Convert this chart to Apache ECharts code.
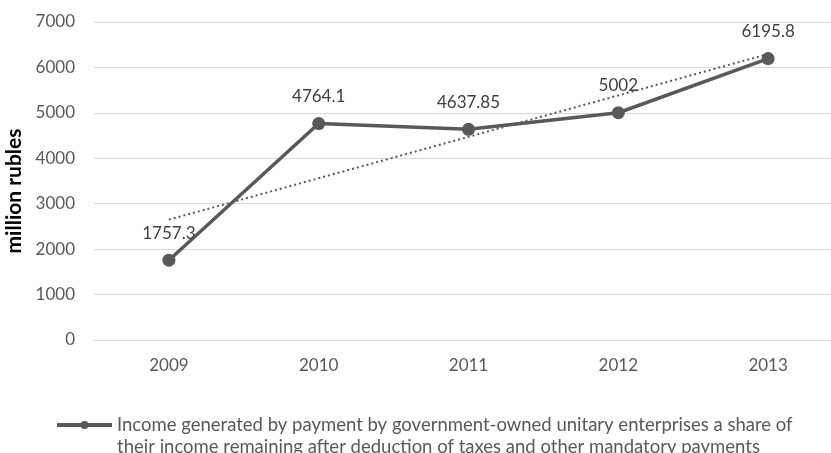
<!DOCTYPE html>
<html><head><meta charset="utf-8">
<script src="https://cdn.jsdelivr.net/npm/echarts@6/dist/echarts.min.js"></script>
<style>html,body{margin:0;padding:0;background:#fff}#c{width:831px;height:453px}</style>
</head><body><div id="c"></div>
<script>
const categories = ['2009', '2010', '2011', '2012', '2013'];
const incomeValues = [1757.3, 4764.1, 4637.85, 5002, 6195.8];
const trendValues = [2650, null, null, null, 6295];
const yTicks = { min: 0, max: 7000, interval: 1000 };
const seriesName = 'Income generated by payment by government-owned unitary enterprises a share of\ntheir income remaining after deduction of taxes and other mandatory payments';
const yAxisTitle = 'million rubles';

const chart = echarts.init(document.getElementById('c'));
const font = 'Lato';
chart.setOption({
  animation: false,
  grid: { left: 94, width: 749, top: 22, bottom: 113, containLabel: false, outerBoundsMode: 'none' },
  xAxis: {
    type: 'category', data: categories, boundaryGap: true,
    axisLine: { show: true, lineStyle: { color: '#d9d9d9', width: 1 } },
    axisTick: { show: false },
    axisLabel: { color: '#595959', fontFamily: font, fontSize: 17, margin: 17 }
  },
  yAxis: {
    type: 'value', min: yTicks.min, max: yTicks.max, interval: yTicks.interval,
    name: yAxisTitle, nameLocation: 'middle', nameGap: 67, nameRotate: 90,
    nameTextStyle: { color: '#000', fontFamily: font, fontSize: 21, fontWeight: 'bold', padding: [0, 20, 0, 0] },
    axisLine: { show: false }, axisTick: { show: false },
    axisLabel: { color: '#595959', fontFamily: font, fontSize: 17, margin: 19, formatter: v => String(v) },
    splitLine: { lineStyle: { color: '#d9d9d9', width: 1 } }
  },
  legend: {
    show: true, left: 55, top: 392, padding: 0, itemWidth: 55, itemHeight: 10, itemGap: 7,
    data: [seriesName],
    formatter: name => '\n' + name,
    lineStyle: { width: 4, color: '#595959' },
    textStyle: { color: '#595959', fontFamily: font, fontSize: 18.5, lineHeight: 22 }
  },
  series: [
    {
      name: 'trend', type: 'line', data: trendValues, connectNulls: true,
      symbol: 'none', silent: true, z: 1,
      lineStyle: { color: '#595959', width: 2, type: [2, 3] }
    },
    {
      name: seriesName, type: 'line', data: incomeValues, z: 2,
      symbol: 'circle', symbolSize: 13,
      itemStyle: { color: '#595959' },
      lineStyle: { color: '#595959', width: 3.5 },
      label: { show: true, position: 'top', distance: 12, color: '#404040', fontFamily: font, fontSize: 17 }
    }
  ]
});
</script></body></html>
